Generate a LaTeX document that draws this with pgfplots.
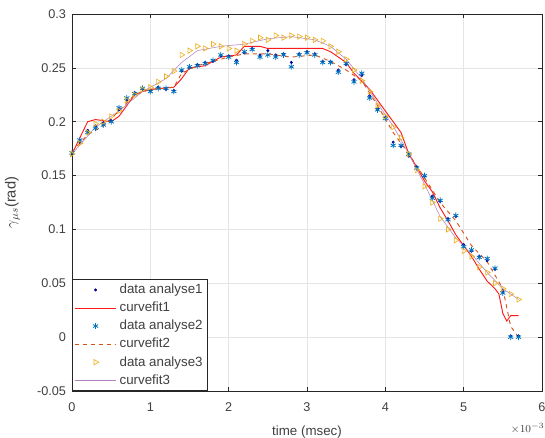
\documentclass[border=0pt]{standalone}
\usepackage{pgfplots}
\pgfplotsset{compat=1.18}
\usepackage{fontspec}
\setmainfont{Liberation Sans}
\definecolor{mblue}{rgb}{0,0.447,0.741}
\definecolor{morange}{rgb}{0.85,0.325,0.098}
\definecolor{myellow}{rgb}{0.929,0.694,0.125}
\definecolor{mpurple}{rgb}{0.494,0.184,0.556}
\definecolor{axgray}{rgb}{0.15,0.15,0.15}
\definecolor{mred}{rgb}{1,0.1,0.1}
\pgfplotsset{
  markleg/.style={legend image code/.code={\draw[##1] plot coordinates {(0.55cm,0cm)};}},
}
\begin{document}
\begin{tikzpicture}
\begin{axis}[
  name=ax,
  at={(0,0)}, anchor=south west,
  width=352.5pt, height=282.75pt, scale only axis,
  xmin=0, xmax=6, ymin=-0.05, ymax=0.3,
  xtick={0,1,2,3,4,5,6},
  ytick={-0.05,0,0.05,0.1,0.15,0.2,0.25,0.3},
  yticklabels={-0.05,0,0.05,0.1,0.15,0.2,0.25,0.3},
  xticklabels={0,1,2,3,4,5,6},
  grid=major,
  grid style={gray!20, line width=0.4pt},
  axis line style={axgray, line width=0.6pt},
  tick style={axgray, line width=0.5pt},
  tick align=inside, major tick length=3pt,
  tick label style={font=\fontsize{9.5}{11}\selectfont, text=black!75},
  xticklabel style={yshift=-5pt},
  yticklabel style={xshift=-1pt},
  xlabel={time (msec)},
  ylabel={$\gamma_{\mu s}$(rad)},
  label style={font=\fontsize{10}{12}\selectfont, text=black!75},
  xlabel style={yshift=-4pt},
  ylabel style={yshift=6pt, font=\fontsize{11}{13}\selectfont},
  legend cell align=left,
  legend style={font=\fontsize{10}{12}\selectfont, text=black!75, draw=axgray, fill=white, inner sep=1.5pt, row sep=0.8pt, at={(0,0)}, anchor=south west},
]
% data analyse1
\addplot[only marks, mark=*, mark size=0.9pt, color=blue!60!black, markleg] coordinates {
(0.0,0.170)(0.1,0.181)(0.2,0.192)(0.3,0.196)(0.4,0.199)(0.5,0.201)(0.6,0.211)(0.7,0.220)(0.8,0.227)(0.9,0.230)
(1.0,0.229)(1.1,0.232)(1.2,0.230)(1.3,0.229)(1.4,0.247)(1.5,0.250)(1.6,0.253)(1.7,0.255)(1.8,0.256)(1.9,0.261)
(2.0,0.261)(2.1,0.257)(2.2,0.264)(2.3,0.268)(2.4,0.262)(2.5,0.266)(2.6,0.262)(2.7,0.263)(2.8,0.255)(2.9,0.263)
(3.0,0.265)(3.1,0.263)(3.2,0.256)(3.3,0.256)(3.4,0.248)(3.5,0.253)(3.6,0.239)(3.7,0.243)(3.8,0.224)(3.9,0.212)
(4.0,0.204)(4.1,0.181)(4.2,0.177)(4.3,0.168)(4.4,0.158)(4.5,0.149)(4.6,0.131)(4.7,0.126)(4.8,0.110)(4.9,0.112)
(5.0,0.086)(5.1,0.080)(5.2,0.075)(5.3,0.071)(5.4,0.063)(5.5,0.043)(5.6,0.001)(5.7,0.001)};
\addlegendentry{data analyse1}
% curvefit1
\addplot[color=mred, line width=0.7pt, legend image code/.code={\draw[mred, line width=0.7pt] (0cm,0cm) -- (1.1cm,0cm);}] coordinates {
(0,0.170)(0.1,0.185)(0.2,0.200)(0.3,0.202)(0.5,0.200)(0.6,0.205)(0.7,0.215)(0.8,0.225)(0.9,0.228)(1.0,0.230)
(1.3,0.232)(1.4,0.240)(1.5,0.250)(1.7,0.252)(1.9,0.260)(2.1,0.262)(2.2,0.270)(2.4,0.270)(2.5,0.268)(3.2,0.268)
(3.3,0.265)(3.5,0.255)(3.6,0.245)(3.8,0.230)(3.9,0.220)(4.0,0.210)(4.1,0.200)(4.2,0.190)(4.3,0.170)(4.4,0.158)
(4.5,0.145)(4.6,0.135)(4.7,0.120)(4.8,0.108)(4.9,0.095)(5.0,0.085)(5.1,0.075)(5.2,0.063)(5.3,0.052)(5.4,0.045)
(5.45,0.040)(5.5,0.022)(5.55,0.015)(5.6,0.020)(5.7,0.020)};
\addlegendentry{curvefit1}
% data analyse2
\addplot[only marks, mark=asterisk, mark size=2.2pt, color=mblue, line width=0.6pt, markleg] coordinates {
(0.0,0.171)(0.1,0.183)(0.2,0.190)(0.3,0.194)(0.4,0.197)(0.5,0.200)(0.6,0.213)(0.7,0.222)(0.8,0.226)(0.9,0.231)
(1.0,0.228)(1.1,0.231)(1.2,0.231)(1.3,0.228)(1.4,0.248)(1.5,0.251)(1.6,0.252)(1.7,0.254)(1.8,0.257)(1.9,0.262)
(2.0,0.260)(2.1,0.255)(2.2,0.265)(2.3,0.267)(2.4,0.260)(2.5,0.262)(2.6,0.260)(2.7,0.262)(2.8,0.251)(2.9,0.262)
(3.0,0.264)(3.1,0.262)(3.2,0.255)(3.3,0.255)(3.4,0.246)(3.5,0.254)(3.6,0.237)(3.7,0.245)(3.8,0.222)(3.9,0.211)
(4.0,0.203)(4.1,0.178)(4.2,0.178)(4.3,0.170)(4.4,0.157)(4.5,0.150)(4.6,0.129)(4.7,0.127)(4.8,0.109)(4.9,0.113)
(5.0,0.084)(5.1,0.081)(5.2,0.074)(5.3,0.073)(5.4,0.064)(5.5,0.041)(5.6,0.000)(5.7,0.000)};
\addlegendentry{data analyse2}
% curvefit2
\addplot[color=morange, dashed, line width=0.7pt, legend image code/.code={\draw[morange, dashed, line width=0.7pt] (0cm,0cm) -- (1.1cm,0cm);}] coordinates {
(0,0.172)(0.2,0.188)(0.4,0.196)(0.6,0.210)(0.8,0.225)(1.0,0.230)(1.3,0.232)(1.4,0.245)(1.6,0.252)(1.8,0.256)
(2.0,0.260)(2.2,0.263)(2.5,0.263)(2.8,0.260)(3.1,0.262)(3.3,0.256)(3.5,0.248)(3.7,0.238)(3.9,0.215)(4.1,0.190)
(4.3,0.170)(4.5,0.148)(4.7,0.125)(4.9,0.108)(5.1,0.085)(5.3,0.070)(5.5,0.045)(5.6,0.010)(5.7,0.000)};
\addlegendentry{curvefit2}
% data analyse3
\addplot[only marks, mark=triangle, mark size=2.3pt, color=myellow, line width=0.5pt, every mark/.append style={rotate=-90}, markleg] coordinates {
(0.0,0.170)(0.1,0.180)(0.2,0.190)(0.3,0.198)(0.4,0.200)(0.5,0.205)(0.6,0.210)(0.7,0.220)(0.8,0.225)(0.9,0.230)
(1.0,0.232)(1.1,0.237)(1.2,0.242)(1.3,0.247)(1.4,0.262)(1.5,0.266)(1.6,0.270)(1.7,0.268)(1.8,0.272)(1.9,0.270)
(2.0,0.268)(2.1,0.266)(2.2,0.272)(2.3,0.275)(2.4,0.278)(2.5,0.276)(2.6,0.280)(2.7,0.278)(2.8,0.280)(2.9,0.279)
(3.0,0.278)(3.1,0.276)(3.2,0.275)(3.3,0.270)(3.4,0.265)(3.5,0.258)(3.6,0.248)(3.7,0.238)(3.8,0.228)(3.9,0.215)
(4.0,0.205)(4.1,0.195)(4.2,0.185)(4.3,0.170)(4.4,0.155)(4.5,0.140)(4.6,0.125)(4.7,0.110)(4.8,0.100)(4.9,0.090)
(5.0,0.080)(5.1,0.075)(5.2,0.065)(5.3,0.060)(5.4,0.050)(5.5,0.045)(5.6,0.040)(5.7,0.035)};
\addlegendentry{data analyse3}
% curvefit3
\addplot[color=mpurple!60, line width=0.4pt, legend image code/.code={\draw[mpurple!60, line width=0.4pt] (0cm,0cm) -- (1.1cm,0cm);}] coordinates {
(0,0.170)(0.3,0.195)(0.6,0.210)(0.9,0.228)(1.2,0.240)(1.4,0.255)(1.6,0.266)(1.9,0.270)(2.2,0.272)(2.5,0.277)
(2.8,0.279)(3.1,0.276)(3.3,0.270)(3.5,0.258)(3.7,0.240)(3.9,0.217)(4.1,0.196)(4.3,0.170)(4.5,0.142)(4.7,0.112)
(4.9,0.092)(5.1,0.077)(5.3,0.060)(5.5,0.045)(5.7,0.035)};
\addlegendentry{curvefit3}
\end{axis}
\node[anchor=east, font=\fontsize{8.5}{10}\selectfont, text=black!75, inner sep=0pt] at ([yshift=-28pt,xshift=2pt]ax.south east) {$\times10^{-3}$};
\pgfresetboundingbox
\path ([xshift=-54pt,yshift=-35.25pt]ax.south west) rectangle ([xshift=2.25pt,yshift=10.5pt]ax.north east);
\end{tikzpicture}
\end{document}
